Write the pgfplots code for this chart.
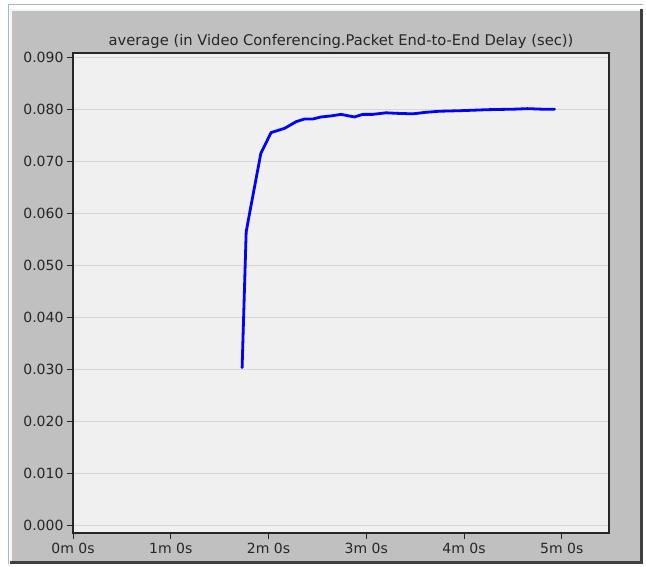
\documentclass[border=0pt]{standalone}
\usepackage{fontspec}
\setmainfont{DejaVu Sans}
\usepackage{pgfplots}
\pgfplotsset{compat=1.18}
\definecolor{framegray}{HTML}{C0C0C0}
\definecolor{plotbg}{HTML}{F0F0F0}
\definecolor{gridc}{HTML}{D6D6D6}
\definecolor{darkedge}{HTML}{404040}
\definecolor{bluish}{HTML}{A8B8CC}
\definecolor{curve}{HTML}{0000FF}
\pgfplotstableread{
t v
103.8 0.0303
106.3 0.0564
108.4 0.0600
115.3 0.0715
121.6 0.0755
124.7 0.0758
129.8 0.0763
137.0 0.0776
142.0 0.0781
147.1 0.0781
152.3 0.0785
158.4 0.0787
164.6 0.0790
167.6 0.0788
172.8 0.0785
177.9 0.0790
184.0 0.0790
192.2 0.0793
198.4 0.0792
208.6 0.0791
216.8 0.0794
225.0 0.0796
237.2 0.0797
254.6 0.0799
271.0 0.0800
279.0 0.0801
287.4 0.0800
295.6 0.0800
}\delaydata
\begin{document}
\begin{tikzpicture}
\path[use as bounding box] (0pt,0pt) rectangle (646pt,566pt);
\fill[white] (0pt,0pt) rectangle (646pt,566pt);
\draw[bluish, line width=1pt] (8.5pt,2pt) -- (8.5pt,561.5pt) -- (643pt,561.5pt);
\fill[framegray] (10pt,5pt) rectangle (640pt,557pt);
\fill[white!85!framegray] (10pt,555pt) rectangle (640pt,557pt);
\fill[white!85!framegray] (10pt,5pt) rectangle (12pt,557pt);
\fill[darkedge] (640pt,2pt) rectangle (643pt,557pt);
\fill[darkedge] (10pt,2pt) rectangle (643pt,5pt);
\begin{axis}[
  at={(73pt,33pt)}, anchor=south west,
  scale only axis, width=536pt, height=480pt,
  xmin=0, xmax=329, ymin=-0.0015, ymax=0.0908,
  axis background/.style={fill=plotbg},
  ymajorgrids, grid style={gridc, line width=1.2pt},
  tick align=outside, major tick length=6pt,
  xtick pos=left, ytick pos=left,
  axis line style={black!85, line width=1.4pt},
  tick style={black!85, line width=1pt},
  xtick={0,60,120,180,240,300},
  xticklabels={0m 0s,1m 0s,2m 0s,3m 0s,4m 0s,5m 0s},
  ytick={0,0.01,0.02,0.03,0.04,0.05,0.06,0.07,0.08,0.09},
  scaled y ticks=false,
  yticklabel style={/pgf/number format/.cd, fixed, fixed zerofill, precision=3},
  /pgf/number format/assume math mode=true,
  every tick label/.append style={font=\fontsize{14}{16}\selectfont, text=black!85},
  xticklabel style={yshift=-1pt},
  title={average (in Video Conferencing.Packet End-to-End Delay (sec))},
  title style={font=\fontsize{14.7}{16}\selectfont, text=black!85, at={(0.5,1)}, anchor=base, inner sep=0pt, yshift=1pt},
]
\addplot[curve, line width=2.8pt, line join=round, line cap=round] table[x=t, y=v] {\delaydata};
\end{axis}
\end{tikzpicture}
\end{document}
